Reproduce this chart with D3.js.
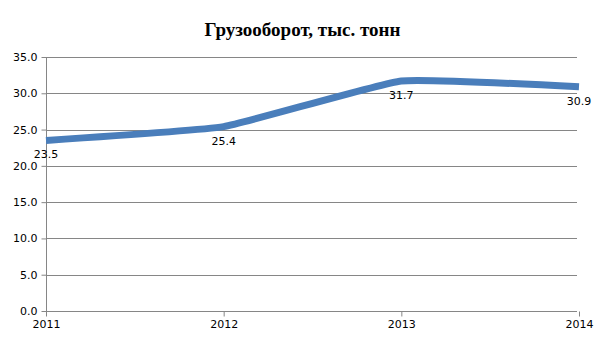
<!DOCTYPE html>
<html>
<head>
<meta charset="utf-8">
<script src="https://cdn.jsdelivr.net/npm/d3@7"></script>
<style>
  body { margin: 0; background: #fff; }
  text { font-family: "DejaVu Sans", Verdana, sans-serif; font-size: 11px; fill: #000; }
  .title { font-family: "Liberation Serif", "Times New Roman", serif; font-size: 19px; font-weight: bold; }
</style>
</head>
<body>
<div id="chart"></div>
<script>
var years = ["2011", "2012", "2013", "2014"];
var cargo = [23.5, 25.4, 31.7, 30.9];
var yTicks = [0, 5, 10, 15, 20, 25, 30, 35];

var svgWidth = 605;
var svgHeight = 340;
var margin = { top: 57, right: 26, bottom: 29, left: 46 };
var width = svgWidth - margin.left - margin.right;
var height = svgHeight - margin.top - margin.bottom;

var svg = d3.select("#chart")
  .append("svg")
  .attr("width", svgWidth)
  .attr("height", svgHeight);

svg.append("text")
  .attr("class", "title")
  .attr("x", svgWidth / 2)
  .attr("y", 36)
  .attr("text-anchor", "middle")
  .text("Грузооборот, тыс. тонн");

var chartGroup = svg.append("g")
  .attr("transform", `translate(${margin.left}, ${margin.top})`);

var x = d3.scalePoint().domain(years).range([0, width]);
var y = d3.scaleLinear().domain([0, 35]).range([height, 0]);

// gridlines
chartGroup.append("g")
  .selectAll("line")
  .data(yTicks)
  .enter().append("line")
  .attr("x1", 0)
  .attr("x2", width - 2)
  .attr("y1", d => Math.round(y(d)) + 0.5)
  .attr("y2", d => Math.round(y(d)) + 0.5)
  .attr("stroke", "#868686")
  .attr("stroke-width", 1);

// y axis
var leftAxis = d3.axisLeft(y).tickValues(yTicks).tickFormat(d3.format(".1f")).tickSize(5).tickPadding(4);
var gy = chartGroup.append("g").attr("transform", "translate(0.5,0)").call(leftAxis);
gy.selectAll("line, path").attr("stroke", "#868686");
gy.select(".domain").attr("d", `M0,${y(35)}V${height}`);
gy.selectAll("text").style("font-family", "DejaVu Sans").style("font-size", "11px");

// x axis
var bottomAxis = d3.axisBottom(x).tickSize(5).tickPadding(4);
var gx = chartGroup.append("g").attr("transform", `translate(0, ${height + 0.5})`).call(bottomAxis);
gx.selectAll("line, path").attr("stroke", "#868686");
gx.select(".domain").remove();
gx.selectAll("text").style("font-family", "DejaVu Sans").style("font-size", "11px");

// line (Excel-like light smoothing)
var line = d3.line()
  .x((d, i) => x(years[i]))
  .y(d => y(d))
  .curve(d3.curveCardinal.tension(0.65));

chartGroup.append("path")
  .datum(cargo)
  .attr("d", line)
  .attr("fill", "none")
  .attr("stroke", "#4a7ebb")
  .attr("stroke-width", 7);

// data labels
chartGroup.selectAll(".lbl")
  .data(cargo)
  .enter().append("text")
  .attr("class", "lbl")
  .attr("x", (d, i) => x(years[i]))
  .attr("y", d => y(d) + 18)
  .attr("text-anchor", "middle")
  .text(d => d.toFixed(1));
</script>
</body>
</html>
